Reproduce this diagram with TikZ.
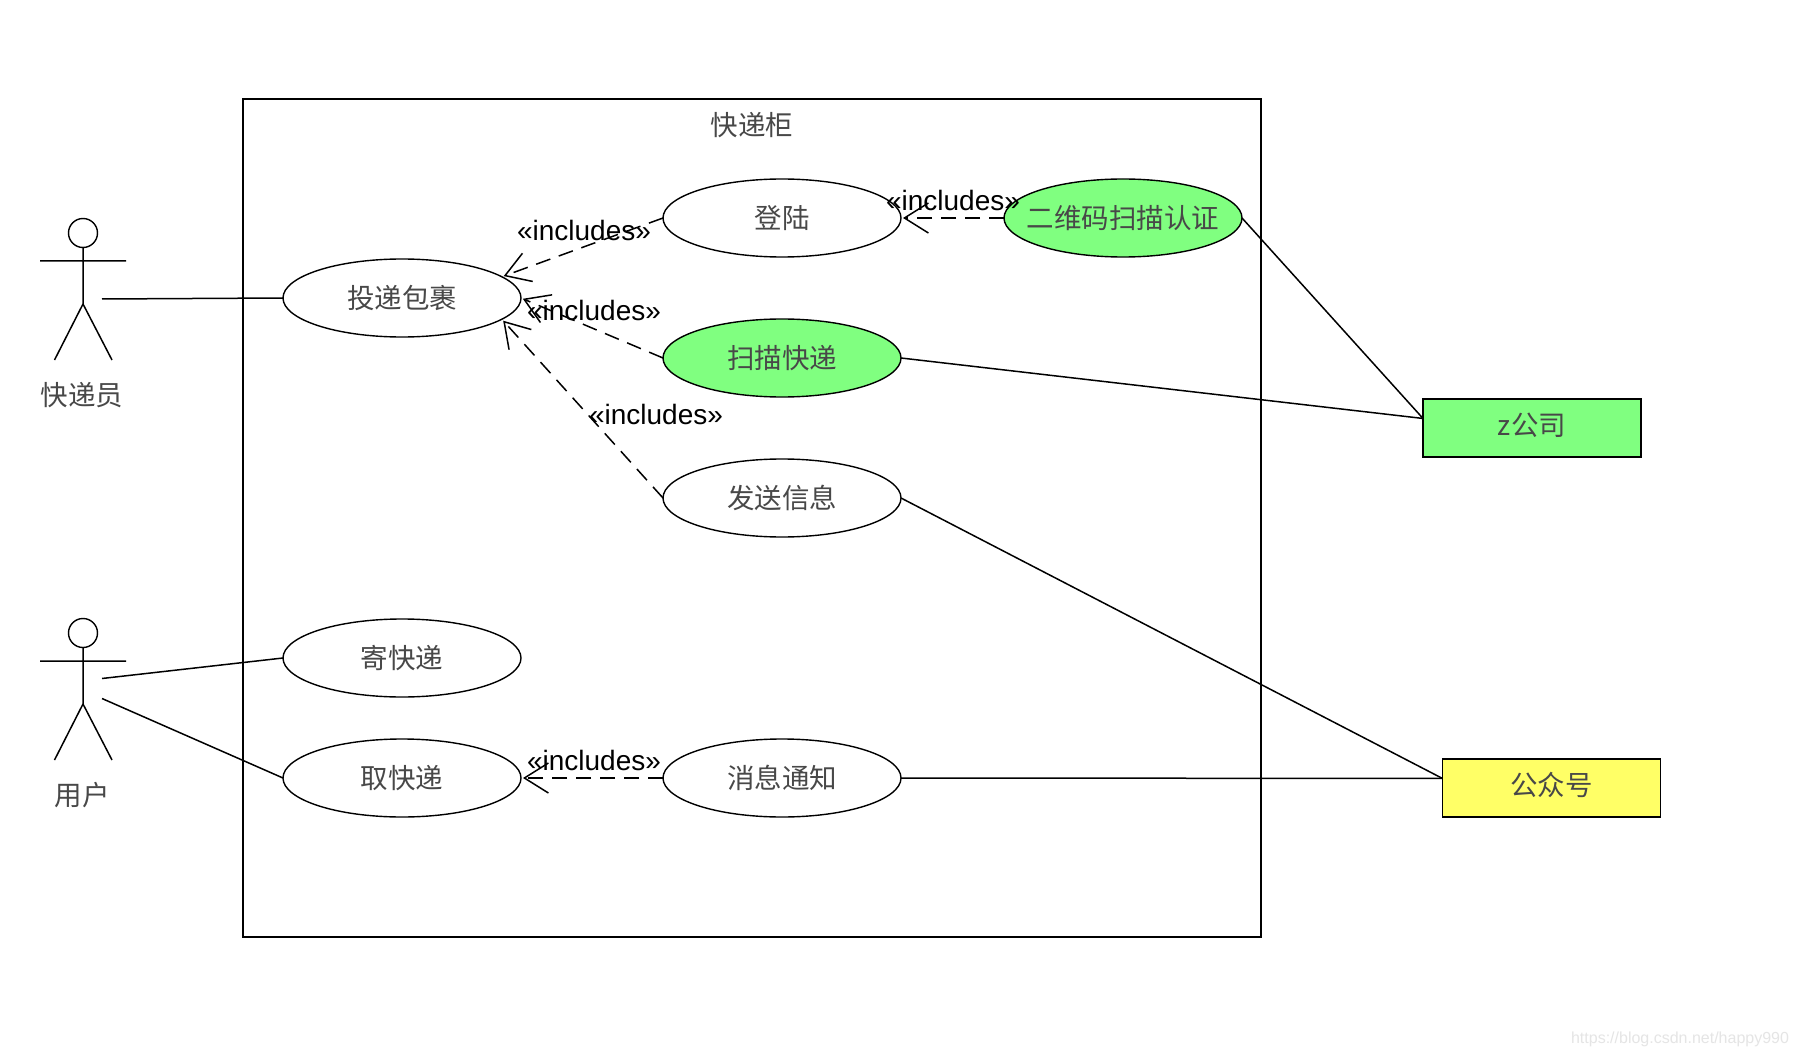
\documentclass[tikz,border=0pt]{standalone}
\usepackage{fontspec}
\setmainfont{Liberation Sans}
\newfontfamily\cjk{Noto Sans CJK SC}
\usetikzlibrary{shapes.geometric,arrows.meta}
\definecolor{ucgreen}{HTML}{80FF80}
\definecolor{ucyellow}{HTML}{FFFF66}
\definecolor{cjkgray}{HTML}{484848}
\newcommand{\uctext}[1]{\makebox[0pt]{\raisebox{-0.8pt}{#1}}}
\newcommand{\boxtext}[1]{\raisebox{8pt}{#1}}
\tikzset{
  every node/.style={inner sep=0pt,outer sep=0pt},
  usecase/.style={ellipse,draw=black,line width=1.4pt,fill=white,minimum width=238pt,minimum height=78pt,font=\cjk\fontsize{27.5}{31}\selectfont,text=cjkgray},
  greencase/.style={usecase,fill=ucgreen},
  extbox/.style={rectangle,draw=black,line width=1.5pt,minimum width=218pt,minimum height=58pt,font=\cjk\fontsize{27.5}{31}\selectfont,text=cjkgray},
  cjklabel/.style={font=\cjk\fontsize{27.5}{31}\selectfont,text=cjkgray},
  inclabel/.style={font=\fontsize{28}{32}\selectfont,text=black},
  assoc/.style={line width=1.5pt,draw=black},
  incl/.style={line width=1.5pt,draw=black,dash pattern=on 15pt off 9pt,shorten >=2pt,-{Straight Barb[length=24pt,width=30pt,line width=1.5pt]}},
  actorline/.style={line width=1.5pt,draw=black},
}
\begin{document}
\begin{tikzpicture}[x=1pt,y=-1pt]
\path[use as bounding box,fill=white] (0,0) rectangle (1798,1056);
% system boundary
\node[draw=black,line width=1.5pt,minimum width=1018pt,minimum height=838pt] (sys) at (752,518) {};
\node[cjklabel] (systitle) at (752,125) {快递柜};
% use cases
\node[usecase] (deliver) at (402,298) {\uctext{投递包裹}};
\node[usecase] (login) at (782,218) {\uctext{登陆}};
\node[greencase] (qr) at (1123,218) {\uctext{二维码扫描认证}};
\node[greencase] (scan) at (782,358) {\uctext{扫描快递}};
\node[usecase] (send) at (782,498) {\uctext{发送信息}};
\node[usecase] (post) at (402,658) {\uctext{寄快递}};
\node[usecase] (pick) at (402,778) {\uctext{取快递}};
\node[usecase] (notify) at (782,778) {\uctext{消息通知}};
% external boxes
\node[extbox,fill=ucgreen] (zco) at (1532,428) {\boxtext{z公司}};
\node[extbox,fill=ucyellow] (gzh) at (1551.5,788) {\boxtext{公众号}};
% actors
\node[circle,draw=black,line width=1.4pt,minimum size=29pt] (head1) at (83,233) {};
\coordinate (neck1) at (83,304);
\coordinate (armL1) at (40,261);
\coordinate (armR1) at (126,261);
\coordinate (footL1) at (54.5,360);
\coordinate (footR1) at (112,360);
\coordinate (port1) at (102,299);
\draw[actorline] (head1.south) -- (neck1) (armL1) -- (armR1) (footL1) -- (neck1) -- (footR1);
\node[cjklabel] (actor1) at (82,395) {快递员};
\node[circle,draw=black,line width=1.4pt,minimum size=29pt] (head2) at (83,633) {};
\coordinate (neck2) at (83,704);
\coordinate (armL2) at (40,661);
\coordinate (armR2) at (126,661);
\coordinate (footL2) at (54.5,760);
\coordinate (footR2) at (112,760);
\coordinate (port2a) at (102,678.5);
\coordinate (port2b) at (102,698.5);
\draw[actorline] (head2.south) -- (neck2) (armL2) -- (armR2) (footL2) -- (neck2) -- (footR2);
\node[cjklabel] (actor2) at (82,795) {用户};
% associations
\draw[assoc] (port1) -- (deliver.west);
\draw[assoc] (port2a) -- (post.west);
\draw[assoc] (port2b) -- (pick.west);
\draw[assoc] (qr.east) -- (zco.175);
\draw[assoc] (scan.east) -- (zco.175);
\draw[assoc] (send.east) -- (gzh.175);
\draw[assoc] (notify.east) -- (gzh.175);
% includes
\draw[incl] (login.west) -- (deliver.12);
\draw[incl] (scan.west) -- (deliver.east);
\draw[incl] (send.west) -- (deliver.-12);
\draw[incl] (qr.west) -- (login.east);
\draw[incl] (notify.west) -- (pick.east);
\node[inclabel] (i1) at (584,230) {«includes»};
\node[inclabel] (i2) at (594,310) {«includes»};
\node[inclabel] (i3) at (656,414) {«includes»};
\node[inclabel] (i4) at (953,200) {«includes»};
\node[inclabel] (i5) at (594,760) {«includes»};
% watermark
\node[anchor=east,font=\fontsize{16}{20}\selectfont,text=black!10] (wm) at (1789,1039) {https://blog.csdn.net/happy990};
\end{tikzpicture}
\end{document}
